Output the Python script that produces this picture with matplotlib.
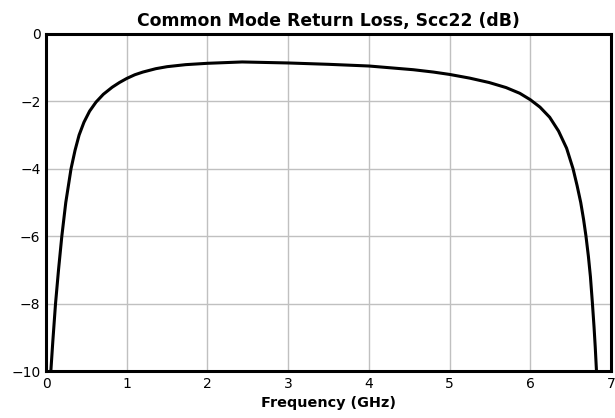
import matplotlib.pyplot as plt

# Scc22
freq_ghz = [0.06, 0.085, 0.118, 0.155, 0.196, 0.245, 0.31, 0.36, 0.41, 0.47, 0.54, 0.62,
            0.71, 0.82, 0.91, 1.00, 1.10, 1.20, 1.36, 1.50, 1.73, 2.00, 2.43, 3.00,
            3.50, 4.00, 4.55, 4.80, 5.00, 5.25, 5.49, 5.70, 5.87, 6.00, 6.12, 6.24,
            6.35, 6.45, 6.53, 6.58, 6.625, 6.66, 6.69, 6.72, 6.745, 6.77, 6.79, 6.805, 6.82]
scc22_db = [-10.0, -9.1, -8.0, -7.0, -6.0, -5.0, -4.0, -3.45, -3.0, -2.62, -2.29, -2.02,
            -1.79, -1.58, -1.44, -1.32, -1.21, -1.13, -1.03, -0.97, -0.91, -0.87, -0.83, -0.86,
            -0.90, -0.95, -1.06, -1.13, -1.20, -1.31, -1.44, -1.59, -1.76, -1.95, -2.17, -2.47,
            -2.88, -3.39, -4.0, -4.5, -5.0, -5.5, -6.0, -6.6, -7.2, -8.0, -8.7, -9.3, -10.0]

x_ticks = [0, 1, 2, 3, 4, 5, 6, 7]
y_ticks = [0, -2, -4, -6, -8, -10]

fig = plt.figure(figsize=(6.15, 4.18), dpi=100)
ax = fig.add_axes([0.0748, 0.1124, 0.9187, 0.8063])

ax.plot(freq_ghz, scc22_db, color='black', linewidth=2.2,
        solid_joinstyle='round', solid_capstyle='butt')

ax.set_xlim(0, 7)
ax.set_ylim(-10, 0)
ax.set_xticks(x_ticks)
ax.set_yticks(y_ticks)
ax.grid(color='#c0c0c0', linewidth=1)
ax.set_axisbelow(True)
ax.tick_params(length=0, labelsize=10, pad=4)

for s in ax.spines.values():
    s.set_linewidth(2.2)

ax.set_title('Common Mode Return Loss, Scc22 (dB)', fontsize=12.4, fontweight='bold', pad=6)
ax.set_xlabel('Frequency (GHz)', fontsize=10.4, fontweight='bold', labelpad=4)

fig.savefig('out.png', dpi=100)
